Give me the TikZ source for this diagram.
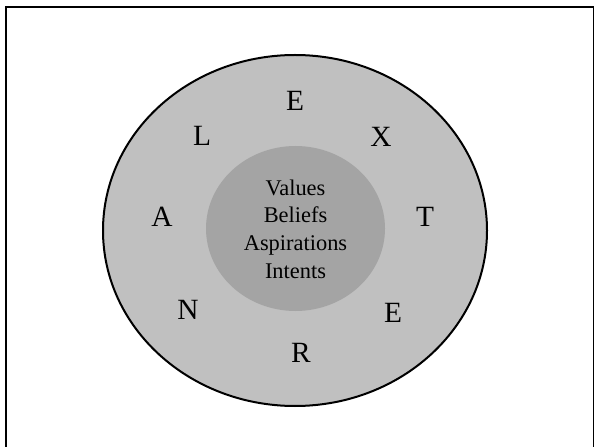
\documentclass[tikz,border=0pt]{standalone}
\usepackage{fontspec}
\setmainfont{Liberation Serif}
\definecolor{ringgray}{HTML}{C0C0C0}
\definecolor{coregray}{HTML}{A4A4A4}
\tikzset{
  letter/.style={anchor=base, font=\fontsize{29.5}{32}\selectfont},
  corebox/.style={align=center, font=\fontsize{22.5}{27.7}\selectfont}
}
\begin{document}
\begin{tikzpicture}[x=1bp,y=-1bp]
  \useasboundingbox (0,0) rectangle (594,447);
  \clip (0,0) rectangle (594,447);
  \draw[line width=2bp] (5.5,7.5) rectangle (593.5,470);
  % outer ring and the core
  \filldraw[fill=ringgray, line width=2bp] (295,230.5) ellipse [x radius=192, y radius=175.5];
  \fill[coregray] (295.5,228.5) ellipse [x radius=89.5, y radius=82.5];
  \node[corebox] (core) at (295.5,229) {Values\\Beliefs\\Aspirations\\Intents};
  % the word round the ring
  \node[letter] (e1) at (295,111) {E};
  \node[letter] (x) at (381,147) {X};
  \node[letter] (t) at (425,227) {T};
  \node[letter] (e2) at (393,322) {E};
  \node[letter] (r) at (301,362) {R};
  \node[letter] (n) at (188,319) {N};
  \node[letter] (a) at (162,227) {A};
  \node[letter] (l) at (202,146) {L};
\end{tikzpicture}
\end{document}
